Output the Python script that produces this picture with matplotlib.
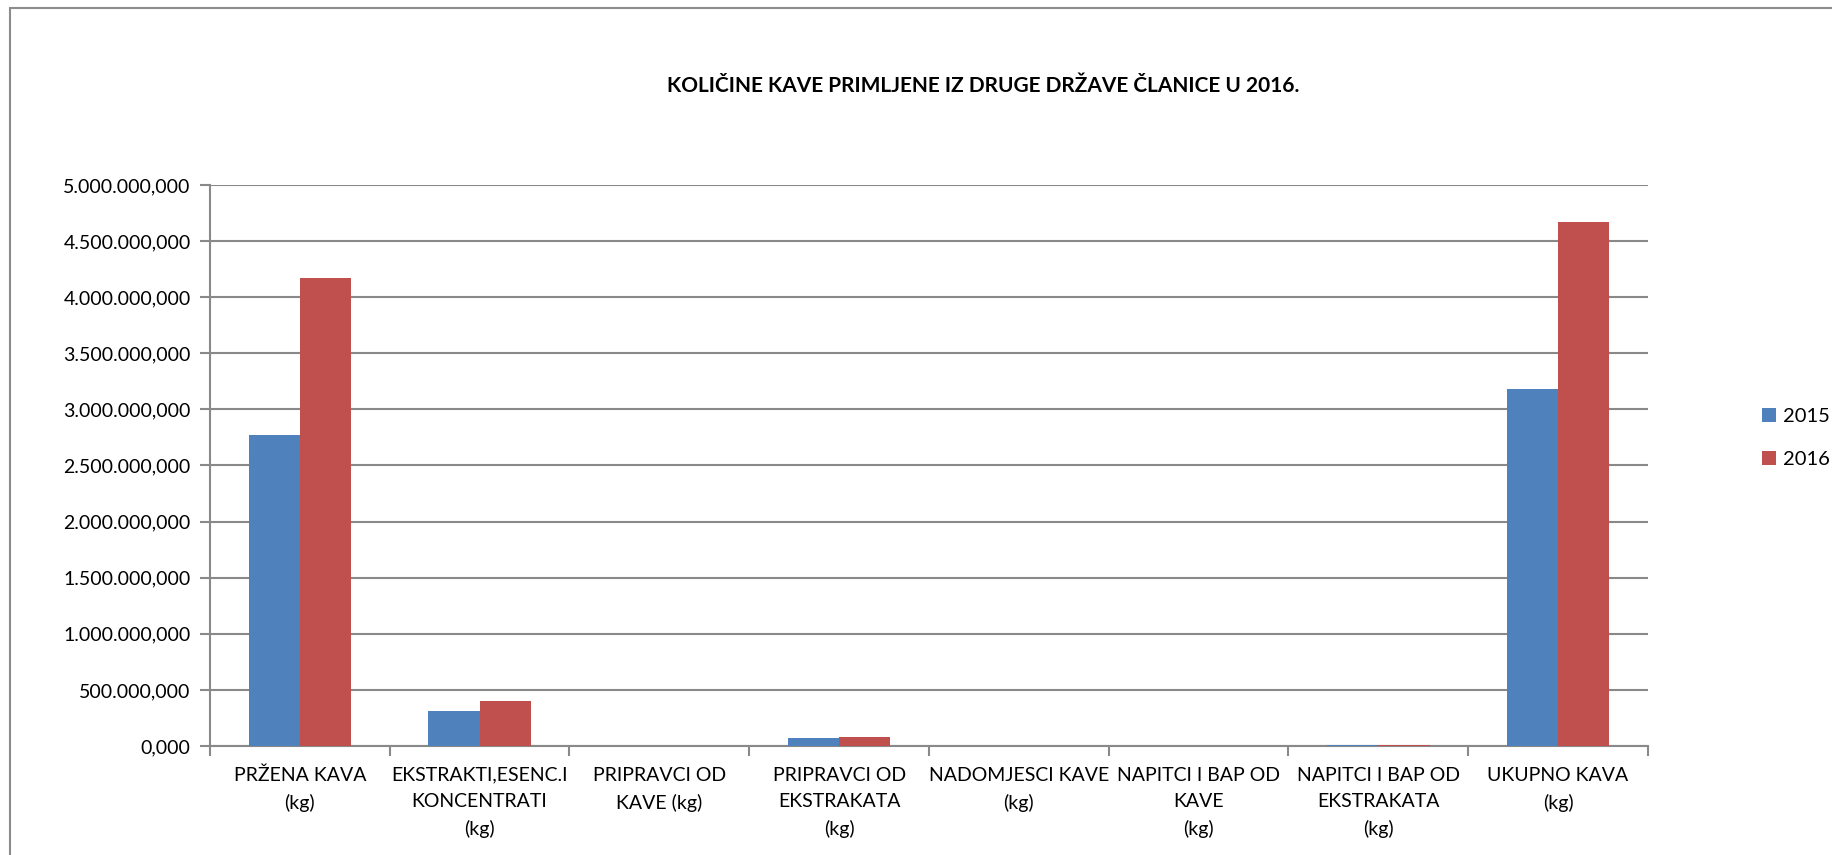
import matplotlib
matplotlib.use("Agg")
import matplotlib.pyplot as plt
from matplotlib.patches import Rectangle, Patch
from matplotlib.ticker import FuncFormatter
import numpy as np

plt.rcParams["font.family"] = ["Lato", "DejaVu Sans"]

categories = [
    "PRŽENA KAVA\n(kg)",
    "EKSTRAKTI,ESENC.I\nKONCENTRATI\n(kg)",
    "PRIPRAVCI OD\nKAVE (kg)",
    "PRIPRAVCI OD\nEKSTRAKATA\n(kg)",
    "NADOMJESCI KAVE\n(kg)",
    "NAPITCI I BAP OD\nKAVE\n(kg)",
    "NAPITCI I BAP OD\nEKSTRAKATA\n(kg)",
    "UKUPNO KAVA\n(kg)",
]
series_names = ["2015", "2016"]
values_2015 = [2.77e6, 0.31e6, 0.0, 0.068e6, 0.0, 0.0, 0.006e6, 3.18e6]
values_2016 = [4.17e6, 0.40e6, 0.0, 0.078e6, 0.0, 0.0, 0.010e6, 4.67e6]
y_ticks = np.arange(0, 5.0e6 + 1, 0.5e6)

colors = ["#4F81BD", "#C0504D"]
grid_color = "#898989"

W, H = 1833, 855
fig = plt.figure(figsize=(W / 100, H / 100), dpi=100)
ax = fig.add_axes([210 / W, 1 - 746 / H, (1648 - 210) / W, (746 - 185) / H])

n = len(categories)
x = np.arange(n)
bar_w = 1 / 3.5
ax.bar(x - bar_w / 2, values_2015, width=bar_w, color=colors[0], zorder=3)
ax.bar(x + bar_w / 2, values_2016, width=bar_w, color=colors[1], zorder=3)

ax.set_xlim(-0.5, n - 0.5)
ax.set_ylim(0, 5.0e6)
ax.set_yticks(y_ticks)


def fmt(v, pos):
    s = f"{v:,.3f}"
    return s.replace(",", "X").replace(".", ",").replace("X", ".")


ax.yaxis.set_major_formatter(FuncFormatter(fmt))
ax.yaxis.grid(True, color=grid_color, linewidth=1.5, zorder=0)

ax.set_xticks(x)
ax.set_xticklabels(categories, fontsize=14, linespacing=1.66)
ax.set_xticks(np.arange(-0.5, n), minor=True)
ax.tick_params(axis="x", which="major", length=0, pad=15)
ax.tick_params(axis="x", which="minor", length=7, width=1.5, color=grid_color)
ax.tick_params(axis="y", length=7, width=1.5, color=grid_color, labelsize=14, pad=7)

for side in ["top", "right"]:
    ax.spines[side].set_visible(False)
for side in ["left", "bottom"]:
    ax.spines[side].set_color(grid_color)
    ax.spines[side].set_linewidth(1.5)

fig.text(983 / W, 1 - 86 / H, "KOLIČINE KAVE PRIMLJENE IZ DRUGE DRŽAVE ČLANICE U 2016.",
         ha="center", va="center", fontsize=15, fontweight="bold")

handles = [Patch(facecolor=c) for c in colors]
fig.legend(handles, series_names, loc="center left",
           bbox_to_anchor=(1762 / W, 1 - 438 / H), frameon=False,
           fontsize=14.5, handlelength=0.7, handleheight=0.7,
           handletextpad=0.35, labelspacing=1.3, borderpad=0, borderaxespad=0)

# outer chart border (cropped at right and bottom)
fig.patches.append(Rectangle((10 / W, -0.05), 1.1, 1 - 8 / H + 0.05,
                             transform=fig.transFigure, fill=False,
                             edgecolor="#8c8c8c", linewidth=1.5))

fig.savefig("out.png", dpi=100, facecolor="white")
